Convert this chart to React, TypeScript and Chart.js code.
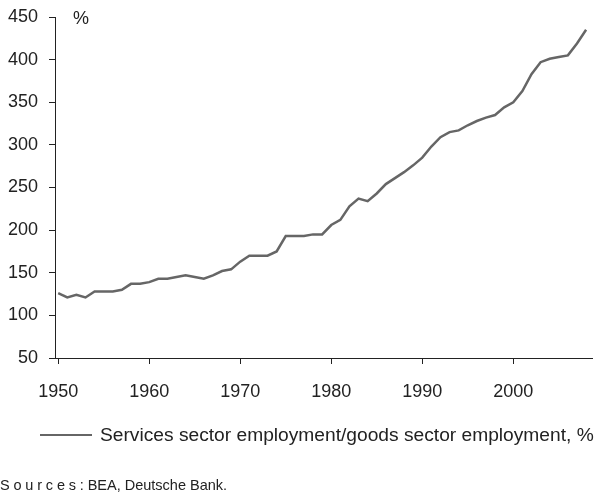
import React, { useEffect, useRef } from "react";
import { Chart, registerables } from "chart.js";

Chart.register(...registerables);

const years = [
  1950, 1951, 1952, 1953, 1954, 1955, 1956, 1957, 1958, 1959,
  1960, 1961, 1962, 1963, 1964, 1965, 1966, 1967, 1968, 1969,
  1970, 1971, 1972, 1973, 1974, 1975, 1976, 1977, 1978, 1979,
  1980, 1981, 1982, 1983, 1984, 1985, 1986, 1987, 1988, 1989,
  1990, 1991, 1992, 1993, 1994, 1995, 1996, 1997, 1998, 1999,
  2000, 2001, 2002, 2003, 2004, 2005, 2006, 2007, 2008,
];

const servicesToGoods = [
  126, 121, 124, 121, 128, 128, 128, 130, 137, 137,
  139, 143, 143, 145, 147, 145, 143, 147, 152, 154,
  163, 170, 170, 170, 175, 193, 193, 193, 195, 195,
  206, 212, 228, 237, 234, 243, 254, 261, 268, 276,
  285, 298, 309, 315, 317, 323, 328, 332, 335, 344,
  350, 363, 383, 397, 401, 403, 405, 419, 435,
];

const xTickYears = [1950, 1960, 1970, 1980, 1990, 2000];
const yTickValues = [50, 100, 150, 200, 250, 300, 350, 400, 450];
const seriesLabel = "Services sector employment/goods sector employment, %";
const unitLabel = "%";
const sourcePrefix = "Sources:";
const sourceText = "BEA, Deutsche Bank.";

const FONT = "'Liberation Sans', Arial, Helvetica, sans-serif";
const TEXT = "#222222";
const LINE = "#666666";

const unitPlugin = {
  id: "unitLabel",
  afterDraw(chart: any) {
    const { ctx, chartArea } = chart;
    ctx.save();
    ctx.font = `18px ${FONT}`;
    ctx.fillStyle = TEXT;
    ctx.textAlign = "left";
    ctx.textBaseline = "middle";
    ctx.fillText(unitLabel, chartArea.left + 18, chartArea.top + 2);
    ctx.restore();
  },
};

export default function App() {
  const ref = useRef<HTMLCanvasElement | null>(null);

  useEffect(() => {
    if (!ref.current) return;
    const chart = new Chart(ref.current, {
      type: "line",
      data: {
        datasets: [
          {
            label: seriesLabel,
            data: years.map((y, i) => ({ x: y, y: servicesToGoods[i] })),
            borderColor: LINE,
            backgroundColor: LINE,
            borderWidth: 2.5,
            pointRadius: 0,
            tension: 0,
          },
        ],
      },
      options: {
        animation: false,
        responsive: false,
        maintainAspectRatio: false,
        layout: { padding: { top: 17, right: 4, left: 5, bottom: 87 } },
        scales: {
          x: {
            type: "linear",
            min: 1949.65,
            max: 2008.65,
            afterBuildTicks: (axis: any) => {
              axis.ticks = xTickYears.map((v) => ({ value: v }));
            },
            afterFit: (axis: any) => {
              axis.height = 50;
            },
            ticks: {
              callback: (v: any) => String(v),
              color: TEXT,
              font: { family: FONT, size: 18 },
              padding: 17,
              maxRotation: 0,
              autoSkip: false,
            },
            grid: {
              drawOnChartArea: false,
              drawTicks: true,
              tickLength: 6,
              color: TEXT,
            },
            border: { display: true, color: TEXT, width: 1 },
          },
          y: {
            type: "linear",
            min: 50,
            max: 450,
            afterBuildTicks: (axis: any) => {
              axis.ticks = yTickValues.map((v) => ({ value: v }));
            },
            afterFit: (axis: any) => {
              axis.width = 50;
              axis.paddingTop = 0;
              axis.paddingBottom = 0;
            },
            ticks: {
              color: TEXT,
              font: { family: FONT, size: 18 },
              padding: 11,
            },
            grid: {
              drawOnChartArea: false,
              drawTicks: true,
              tickLength: 6,
              color: TEXT,
            },
            border: { display: true, color: TEXT, width: 1 },
          },
        },
        plugins: {
          legend: { display: false },
          tooltip: { enabled: false },
          title: { display: false },
        },
      },
      plugins: [unitPlugin],
    });
    return () => chart.destroy();
  }, []);

  return (
    <div style={{ position: "absolute", left: 0, top: 0, width: 596, height: 495 }}>
      <canvas ref={ref} width={596} height={495} style={{ display: "block" }} />
      <div
        style={{
          position: "absolute",
          left: 40,
          top: 423.5,
          height: 22,
          display: "flex",
          alignItems: "center",
          fontFamily: FONT,
          fontSize: 19.2,
          lineHeight: "22px",
          color: TEXT,
          whiteSpace: "nowrap",
        }}
      >
        <span
          style={{
            display: "inline-block",
            width: 52,
            height: 2.5,
            background: LINE,
            marginRight: 8,
            marginTop: 1,
          }}
        />
        <span>{seriesLabel}</span>
      </div>
      <div
        style={{
          position: "absolute",
          left: 0,
          top: 475,
          fontFamily: FONT,
          fontSize: 14.5,
          color: TEXT,
          whiteSpace: "nowrap",
          lineHeight: "20px",
        }}
      >
        <span style={{ letterSpacing: "3.8px" }}>{sourcePrefix}</span>
        {sourceText}
      </div>
    </div>
  );
}
